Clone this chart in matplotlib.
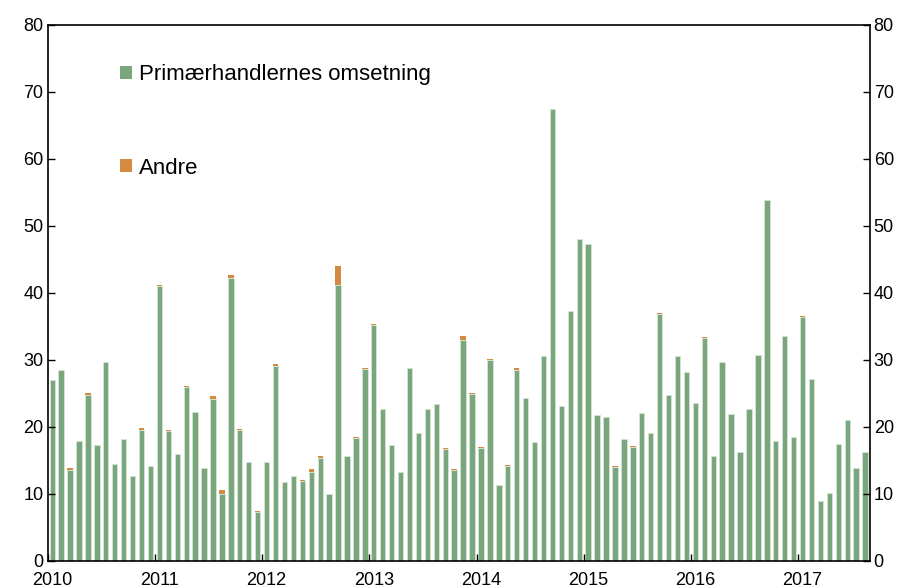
import numpy as np
import matplotlib
matplotlib.use('Agg')
import matplotlib.pyplot as plt
from matplotlib.patches import Patch

plt.rcParams['font.family'] = ['Liberation Sans', 'DejaVu Sans']

years = ['2010', '2011', '2012', '2013', '2014', '2015', '2016', '2017']

# Monthly values, Jan 2010 - Aug 2017
primaer = [
    27.0, 28.5, 13.6, 17.9, 24.8, 17.2, 29.6, 14.5, 18.1, 12.7, 19.5, 14.2,   # 2010
    41.0, 19.4, 15.9, 26.0, 22.2, 13.9, 24.2, 9.9, 42.2, 19.5, 14.8, 7.2,     # 2011
    14.7, 29.1, 11.8, 12.6, 11.9, 13.2, 15.4, 10.0, 41.1, 15.6, 18.3, 28.6,   # 2012
    35.2, 22.6, 17.2, 13.2, 28.8, 19.0, 22.6, 23.4, 16.7, 13.6, 32.9, 24.9,   # 2013
    16.8, 30.0, 11.3, 14.2, 28.4, 24.3, 17.7, 30.5, 67.4, 23.1, 37.2, 48.0,   # 2014
    47.3, 21.7, 21.4, 14.0, 18.1, 17.0, 22.0, 19.0, 36.8, 24.7, 30.5, 28.2,   # 2015
    23.6, 33.3, 15.7, 29.7, 21.9, 16.3, 22.7, 30.7, 53.8, 17.8, 33.5, 18.5,   # 2016
    36.4, 27.1, 8.9, 10.1, 17.4, 21.0, 13.8, 16.3,                             # 2017
]
andre = [
    0.0, 0.0, 0.2, 0.0, 0.3, 0.0, 0.1, 0.0, 0.0, 0.0, 0.3, 0.0,
    0.1, 0.1, 0.0, 0.1, 0.0, 0.0, 0.4, 0.6, 0.4, 0.1, 0.0, 0.2,
    0.1, 0.2, 0.0, 0.0, 0.1, 0.5, 0.3, 0.0, 2.9, 0.0, 0.1, 0.1,
    0.1, 0.1, 0.1, 0.0, 0.0, 0.0, 0.0, 0.0, 0.1, 0.1, 0.6, 0.2,
    0.2, 0.1, 0.0, 0.1, 0.3, 0.0, 0.0, 0.0, 0.0, 0.0, 0.1, 0.0,
    0.0, 0.0, 0.0, 0.1, 0.0, 0.1, 0.0, 0.1, 0.1, 0.0, 0.1, 0.0,
    0.0, 0.1, 0.0, 0.0, 0.0, 0.0, 0.0, 0.0, 0.1, 0.1, 0.1, 0.0,
    0.1, 0.0, 0.0, 0.0, 0.0, 0.0, 0.0, 0.0,
]
labels = ['Primærhandlernes omsetning', 'Andre']

green = '#7aa67e'
orange = '#d38b41'

n = len(primaer)
x = np.arange(n) + 0.5

fig = plt.figure(figsize=(9.04, 5.88), dpi=100)
ax = fig.add_axes([0.0528, 0.0464, 0.9091, 0.9116])

ax.bar(x, primaer, width=0.6, color=green, edgecolor='#d4e4d4', linewidth=0.6)
ax.bar(x, andre, bottom=primaer, width=0.6, color=orange, linewidth=0)

ax.set_xlim(0, n)
ax.set_ylim(0, 80)
ax.set_yticks(np.arange(0, 81, 10))
ax.tick_params(axis='y', direction='in', length=5, width=1, left=True, right=True,
               labelleft=True, labelright=True, labelsize=13, pad=3)

year_starts = np.arange(0, n, 12)
ax.set_xticks(year_starts)
ax.set_xticklabels([])
ax.set_xticks(year_starts + 0.5, minor=True)
ax.set_xticklabels(years, minor=True)
ax.tick_params(axis='x', which='major', direction='in', length=5, width=1)
ax.tick_params(axis='x', which='minor', length=0, labelsize=13, pad=8)

for s in ax.spines.values():
    s.set_linewidth(1.2)

handles = [Patch(facecolor=green, edgecolor='none'), Patch(facecolor=orange, edgecolor='none')]
ax.legend(handles, labels, loc='upper left', bbox_to_anchor=(0.088, 0.926),
          frameon=False, fontsize=16, handlelength=0.55, handleheight=0.55,
          handletextpad=0.3, labelspacing=3.25, borderpad=0, borderaxespad=0)

fig.savefig('out.png', dpi=100)
